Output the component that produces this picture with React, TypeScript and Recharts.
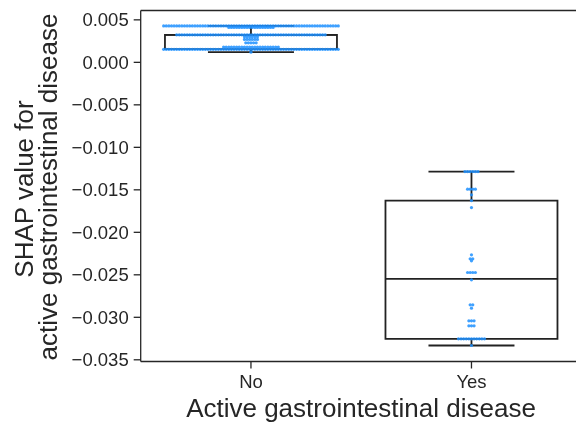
import {
  ScatterChart,
  Scatter,
  XAxis,
  YAxis,
  ReferenceArea,
  ReferenceLine,
} from "recharts";

const categories = ["No", "Yes"];
const yTicks = [0.005, 0, -0.005, -0.01, -0.015, -0.02, -0.025, -0.03, -0.035];

// box stats per category
const whiskerLow = [0.0012, -0.03332];
const q1 = [0.00155, -0.03253];
const median = [0.00324, -0.02547];
const q3 = [0.00324, -0.01626];
const whiskerHigh = [0.00429, -0.01285];

// swarm points: distinct values and how many points sit at each
const noValues = [0.00429, 0.0041, 0.00324, 0.003, 0.0027, 0.0023, 0.0018, 0.00153, 0.0012];
const noCounts = [68, 18, 58, 6, 6, 5, 22, 68, 1];
const yesValues = [
  -0.01285, -0.01492, -0.01559, -0.01626, -0.01709, -0.02265, -0.02312, -0.02335,
  -0.02473, -0.02559, -0.02853, -0.02892, -0.03041, -0.031, -0.03253, -0.03332,
];
const yesCounts = [6, 4, 1, 1, 1, 1, 2, 1, 4, 1, 2, 1, 3, 3, 11, 1];

const TEXT = "#262626";
const LINE = "#222222";
const FONT = "'Liberation Sans', Arial, sans-serif";
const PX_PER_UNIT = 220;
const DOT_GAP = 2.6;
const BOX_HALF = 0.39;
const CAP_HALF = 0.195;
// plot runs past the right edge of the picture, so the x range is cut short there
const X_DOMAIN = [-0.5, 1.474];

// lay the points out side by side, like a swarm plot
const swarm = (center: number, values: number[], counts: number[]) => {
  const pts: { x: number; y: number }[] = [];
  values.forEach((v, i) => {
    const n = counts[i];
    for (let k = 0; k < n; k++) {
      const off = ((k - (n - 1) / 2) * DOT_GAP) / PX_PER_UNIT;
      pts.push({ x: center + off, y: v });
    }
  });
  return pts;
};

const points = [...swarm(0, noValues, noCounts), ...swarm(1, yesValues, yesCounts)];

const fmt = (v: number) => {
  const s = Math.abs(v).toFixed(3);
  return v < -1e-9 ? "\u2212" + s : s;
};

const YLabel = () => (
  <text
    transform="rotate(-90)"
    textAnchor="middle"
    fill={TEXT}
    fontSize={26}
    fontFamily={FONT}
  >
    <tspan x={-181} y={25}>SHAP value for</tspan>
    <tspan x={-179} y={49}>active gastrointestinal disease</tspan>
  </text>
);

const XLabel = () => (
  <text x={353} y={409} textAnchor="middle" fill={TEXT} fontSize={26} fontFamily={FONT}>
    Active gastrointestinal disease
  </text>
);

export default function App() {
  return (
    <div style={{ position: "fixed", left: 8, top: 8, width: 568, height: 418 }}>
      <ScatterChart
        width={568}
        height={418}
        margin={{ top: 2.5, right: 0, bottom: 8, left: 0 }}
      >
        <XAxis
          type="number"
          dataKey="x"
          domain={X_DOMAIN}
          ticks={[0, 1]}
          tickFormatter={(i: number) => categories[i]}
          allowDataOverflow
          height={56.5}
          tickSize={7}
          tickMargin={6}
          stroke={TEXT}
          strokeWidth={1.3}
          tick={{ fill: TEXT, fontSize: 18.5, fontFamily: FONT }}
          label={XLabel}
        />
        <YAxis
          type="number"
          dataKey="y"
          domain={[-0.0352, 0.0061]}
          ticks={yTicks}
          tickFormatter={fmt}
          allowDataOverflow
          width={132.7}
          tickSize={7}
          tickMargin={5}
          stroke={TEXT}
          strokeWidth={1.3}
          tick={{ fill: TEXT, fontSize: 18.5, fontFamily: FONT }}
          label={YLabel}
        />
        <ReferenceLine y={0.0061} stroke={TEXT} strokeWidth={1.3} />
        {categories.map((c, i) => (
          <ReferenceArea
            key={"box" + c}
            x1={i - BOX_HALF}
            x2={i + BOX_HALF}
            y1={q1[i]}
            y2={q3[i]}
            fill="none"
            fillOpacity={0}
            stroke={LINE}
            strokeWidth={1.8}
            strokeOpacity={1}
          />
        ))}
        {categories.map((c, i) => (
          <ReferenceLine
            key={"med" + c}
            segment={[{ x: i - BOX_HALF, y: median[i] }, { x: i + BOX_HALF, y: median[i] }]}
            stroke={LINE}
            strokeWidth={1.8}
          />
        ))}
        {categories.map((c, i) => (
          <ReferenceLine
            key={"wh" + c}
            segment={[{ x: i, y: q3[i] }, { x: i, y: whiskerHigh[i] }]}
            stroke={LINE}
            strokeWidth={1.8}
          />
        ))}
        {categories.map((c, i) => (
          <ReferenceLine
            key={"wl" + c}
            segment={[{ x: i, y: q1[i] }, { x: i, y: whiskerLow[i] }]}
            stroke={LINE}
            strokeWidth={1.8}
          />
        ))}
        {categories.map((c, i) => (
          <ReferenceLine
            key={"ch" + c}
            segment={[{ x: i - CAP_HALF, y: whiskerHigh[i] }, { x: i + CAP_HALF, y: whiskerHigh[i] }]}
            stroke={LINE}
            strokeWidth={1.8}
          />
        ))}
        {categories.map((c, i) => (
          <ReferenceLine
            key={"cl" + c}
            segment={[{ x: i - CAP_HALF, y: whiskerLow[i] }, { x: i + CAP_HALF, y: whiskerLow[i] }]}
            stroke={LINE}
            strokeWidth={1.8}
          />
        ))}
        <Scatter
          data={points}
          isAnimationActive={false}
          shape={(p: any) => <circle cx={p.cx} cy={p.cy} r={1.6} fill="#1e90ff" fillOpacity={0.85} />}
        />
      </ScatterChart>
    </div>
  );
}
